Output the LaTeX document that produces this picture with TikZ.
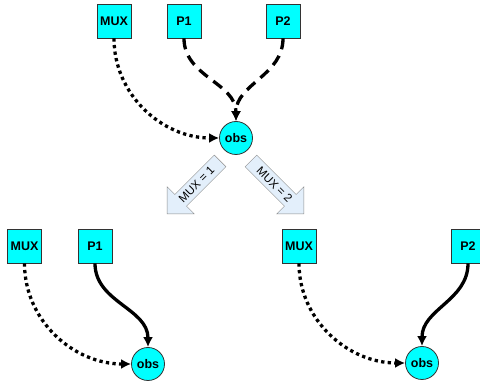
\documentclass[tikz,border=0pt]{standalone}
\usepackage{fontspec}
\setmainfont{Liberation Sans}
\usetikzlibrary{arrows.meta}
\usetikzlibrary{shapes.arrows}
\definecolor{obscyan}{HTML}{00FFFF}
\definecolor{hellblau}{HTML}{E3EFFB}

\begin{document}
\begin{tikzpicture}[x=1pt,y=1pt,>={Latex[length=10pt,width=10pt]},
        every edge/.style={draw=black,line width=3.3pt},
        var/.style={draw=black!80,thick,rectangle,fill=obscyan,minimum size=34pt,inner sep=0pt,font=\fontsize{12.5}{14}\selectfont\bfseries},
        obs/.style={draw=black!80,thick,circle,fill=obscyan,minimum size=33pt,inner sep=0pt,font=\fontsize{12.5}{14}\selectfont\bfseries},
        sel/.style={dash pattern=on 3.3pt off 3.3pt},
        cand/.style={dash pattern=on 11pt off 7pt},
        fall/.style={draw=black!45,fill=hellblau,single arrow,single arrow head extend=11pt,minimum height=75pt,inner xsep=3pt,inner ysep=4pt,font=\fontsize{11.5}{13}\selectfont}]
        \useasboundingbox (0,0) rectangle (480,382);

        % oben: gemischtes Modell
        \node[var] (M) at (114,361) {MUX};
        \node[var] (P1) at (184,361) {P1};
        \node[var] (P2) at (283,361) {P2};
        \node[obs] (O) at (236,244) {obs};

        \path [->](M) edge[sel,out=-90,in=180] (O);
        \path [->](P1) edge[cand,out=-90,in=90] (O);
        \path [->](P2) edge[cand,out=-90,in=90] (O);

        % Fallunterscheidung
        \node[fall,rotate=45,shape border rotate=180] (A1) at (196.5,197.5) {MUX = 1};
        \node[fall,rotate=-45] (A2) at (274.5,197.5) {MUX = 2};

        % unten links: MUX = 1
        \node[var] (ML) at (24.5,136) {MUX};
        \node[var] (PL) at (95,136) {P1};
        \node[obs] (OL) at (148,18) {obs};

        \path [->](ML) edge[sel,out=-90,in=180] (OL);
        \path [->](PL) edge[out=-90,in=90] (OL);

        % unten rechts: MUX = 2
        \node[var] (MR) at (299,136) {MUX};
        \node[var] (PR) at (468,136) {P2};
        \node[obs] (OR) at (422,19) {obs};

        \path [->](MR) edge[sel,out=-90,in=180] (OR);
        \path [->](PR) edge[out=-90,in=90] (OR);

    \end{tikzpicture}
\end{document}
